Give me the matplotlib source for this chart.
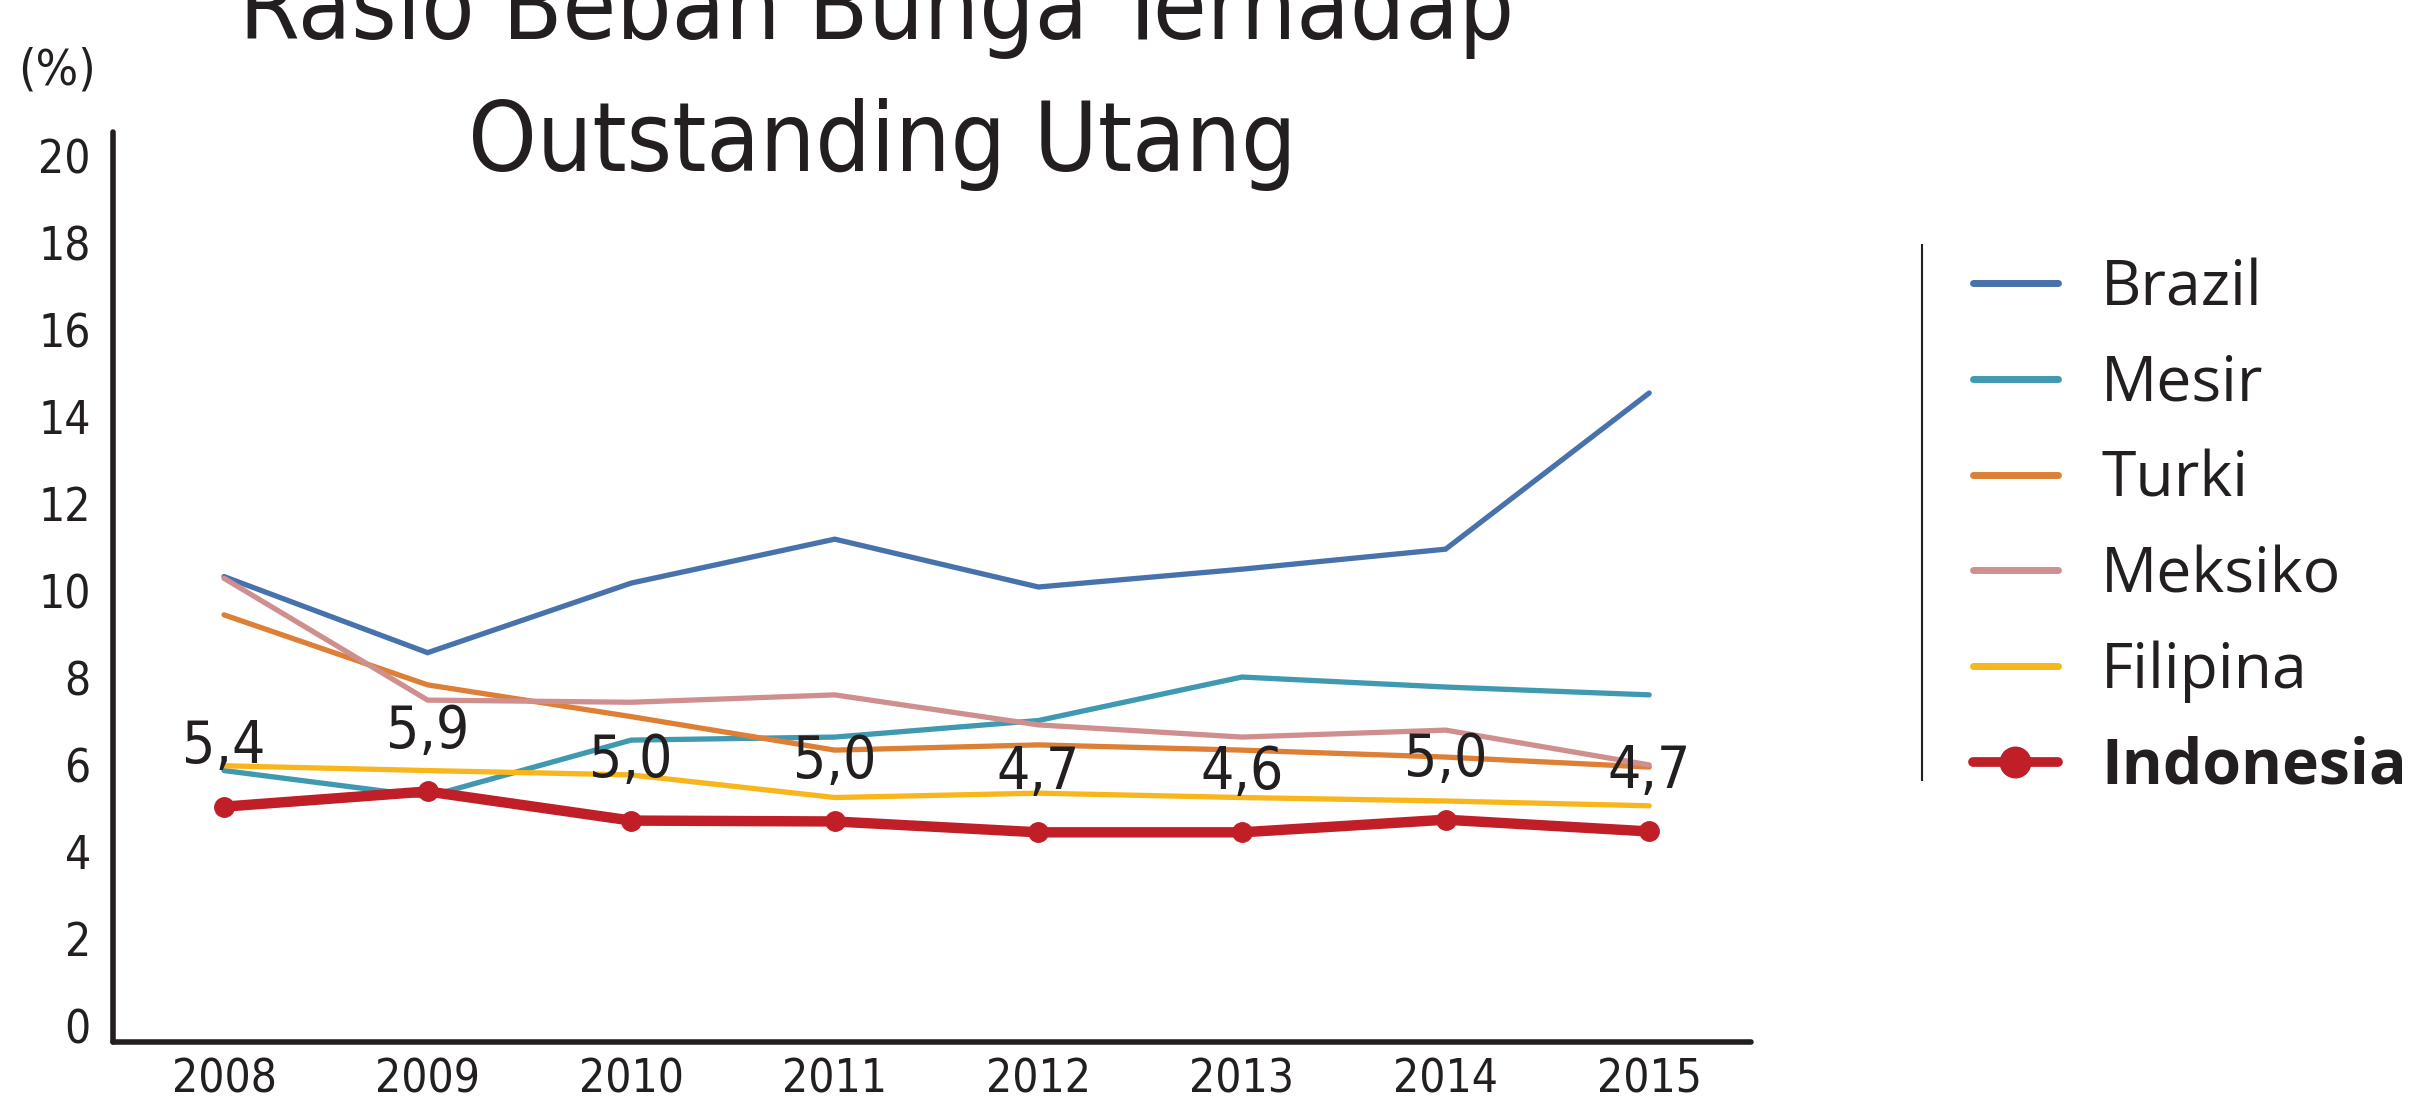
import matplotlib
matplotlib.use("Agg")
import matplotlib.pyplot as plt
from matplotlib.lines import Line2D
from matplotlib import font_manager

# data
years = [2008, 2009, 2010, 2011, 2012, 2013, 2014, 2015]
brazil = [10.33, 8.58, 10.18, 11.19, 10.09, 10.50, 10.96, 14.55]
mesir = [5.87, 5.27, 6.57, 6.64, 7.02, 8.02, 7.79, 7.61]
turki = [9.45, 7.84, 7.11, 6.34, 6.46, 6.34, 6.18, 5.95]
meksiko = [10.29, 7.49, 7.44, 7.61, 6.92, 6.64, 6.80, 6.00]
filipina = [5.98, 5.87, 5.77, 5.25, 5.35, 5.25, 5.17, 5.06]
indonesia = [5.04, 5.39, 4.72, 4.70, 4.45, 4.45, 4.74, 4.47]
indonesia_labels = ["5,4", "5,9", "5,0", "5,0", "4,7", "4,6", "5,0", "4,7"]
yticks = list(range(0, 21, 2))

INK = "#231f20"

# look for any condensed / narrow face installed, else fall back to Roboto
narrow_file = None
for f in font_manager.fontManager.ttflist:
    nm = f.name + " " + str(f.stretch)
    if ("Condensed" in nm or "Narrow" in nm or "condensed" in nm) \
            and f.style == "normal" and f.weight in (400, "normal", "regular"):
        narrow_file = f.fname
        break
if narrow_file:
    def nfont(size):
        return font_manager.FontProperties(fname=narrow_file, size=size)
    SC = 1.0
else:
    def nfont(size):
        return font_manager.FontProperties(family=["Roboto", "DejaVu Sans"],
                                           size=size)
    SC = 0.86

fig = plt.figure(figsize=(24.36, 11.01), dpi=100)
ax = fig.add_axes([0.0464, 0.0536, 0.6724, 0.8265])

series = [
    ("Brazil", brazil, "#4872ab"),
    ("Mesir", mesir, "#3f99b1"),
    ("Turki", turki, "#dd7f35"),
    ("Meksiko", meksiko, "#d08f8f"),
    ("Filipina", filipina, "#f8b51c"),
]
handles = []
for name, vals, col in series:
    h, = ax.plot(years, vals, color=col, lw=3.8, solid_capstyle="round",
                 solid_joinstyle="miter", label=name)
    handles.append(h)

h, = ax.plot(years, indonesia, color="#c01f28", lw=7.5, marker="o",
             markersize=14, solid_capstyle="round", label="Indonesia", zorder=5)
handles.append(h)

for x, y, t in zip(years, indonesia, indonesia_labels):
    ax.annotate(t, (x, y), xytext=(0, 43), textcoords="offset points",
                ha="center", va="center", color=INK,
                fontproperties=nfont(42 * SC), zorder=6)

ax.set_xlim(2007.455, 2015.5)
ax.set_ylim(-0.37, 20.55)
ax.set_xticks(years)
ax.set_xticklabels([str(y) for y in years])
ax.set_yticks(yticks)
ax.tick_params(length=0, colors=INK)
ax.tick_params(axis="y", pad=16)
ax.tick_params(axis="x", pad=11)
for lab in ax.get_xticklabels() + ax.get_yticklabels():
    lab.set_fontproperties(nfont(33 * SC))

for s in ["top", "right"]:
    ax.spines[s].set_visible(False)
for s in ["left", "bottom"]:
    ax.spines[s].set_color(INK)
    ax.spines[s].set_linewidth(4)
    ax.spines[s].set_capstyle("round")

fig.text(0.0234, 0.936, "(%)", color=INK, fontproperties=nfont(36 * SC),
         ha="center", va="center")

# title, top line is cut off by the top edge (as in the original)
fig.text(0.3600, 0.9646, "Rasio Beban Bunga Terhadap",
         fontproperties=nfont(70 * SC), color=INK, ha="center", va="baseline")
fig.text(0.3620, 0.8447, "Outstanding Utang",
         fontproperties=nfont(70 * SC), color=INK, ha="center", va="baseline")

leg = ax.legend(handles=handles, loc="upper left",
                bbox_to_anchor=(0.81, 0.766), bbox_transform=fig.transFigure,
                frameon=False, handlelength=1.35,
                handletextpad=0.7, labelspacing=0.53, borderpad=0,
                borderaxespad=0,
                prop={"family": ["Open Sans", "DejaVu Sans"], "size": 45})
for t in leg.get_texts():
    t.set_color(INK)
leg.get_texts()[-1].set_fontweight("bold")
for ln in leg.get_lines()[:-1]:
    ln.set_linewidth(5)
leg.get_lines()[-1].set_linewidth(7)
leg.get_lines()[-1].set_markersize(22)

fig.add_artist(Line2D([0.789, 0.789], [0.7775, 0.2916], color=INK, lw=1.5,
                      transform=fig.transFigure))

fig.savefig("out.png", dpi=100)
